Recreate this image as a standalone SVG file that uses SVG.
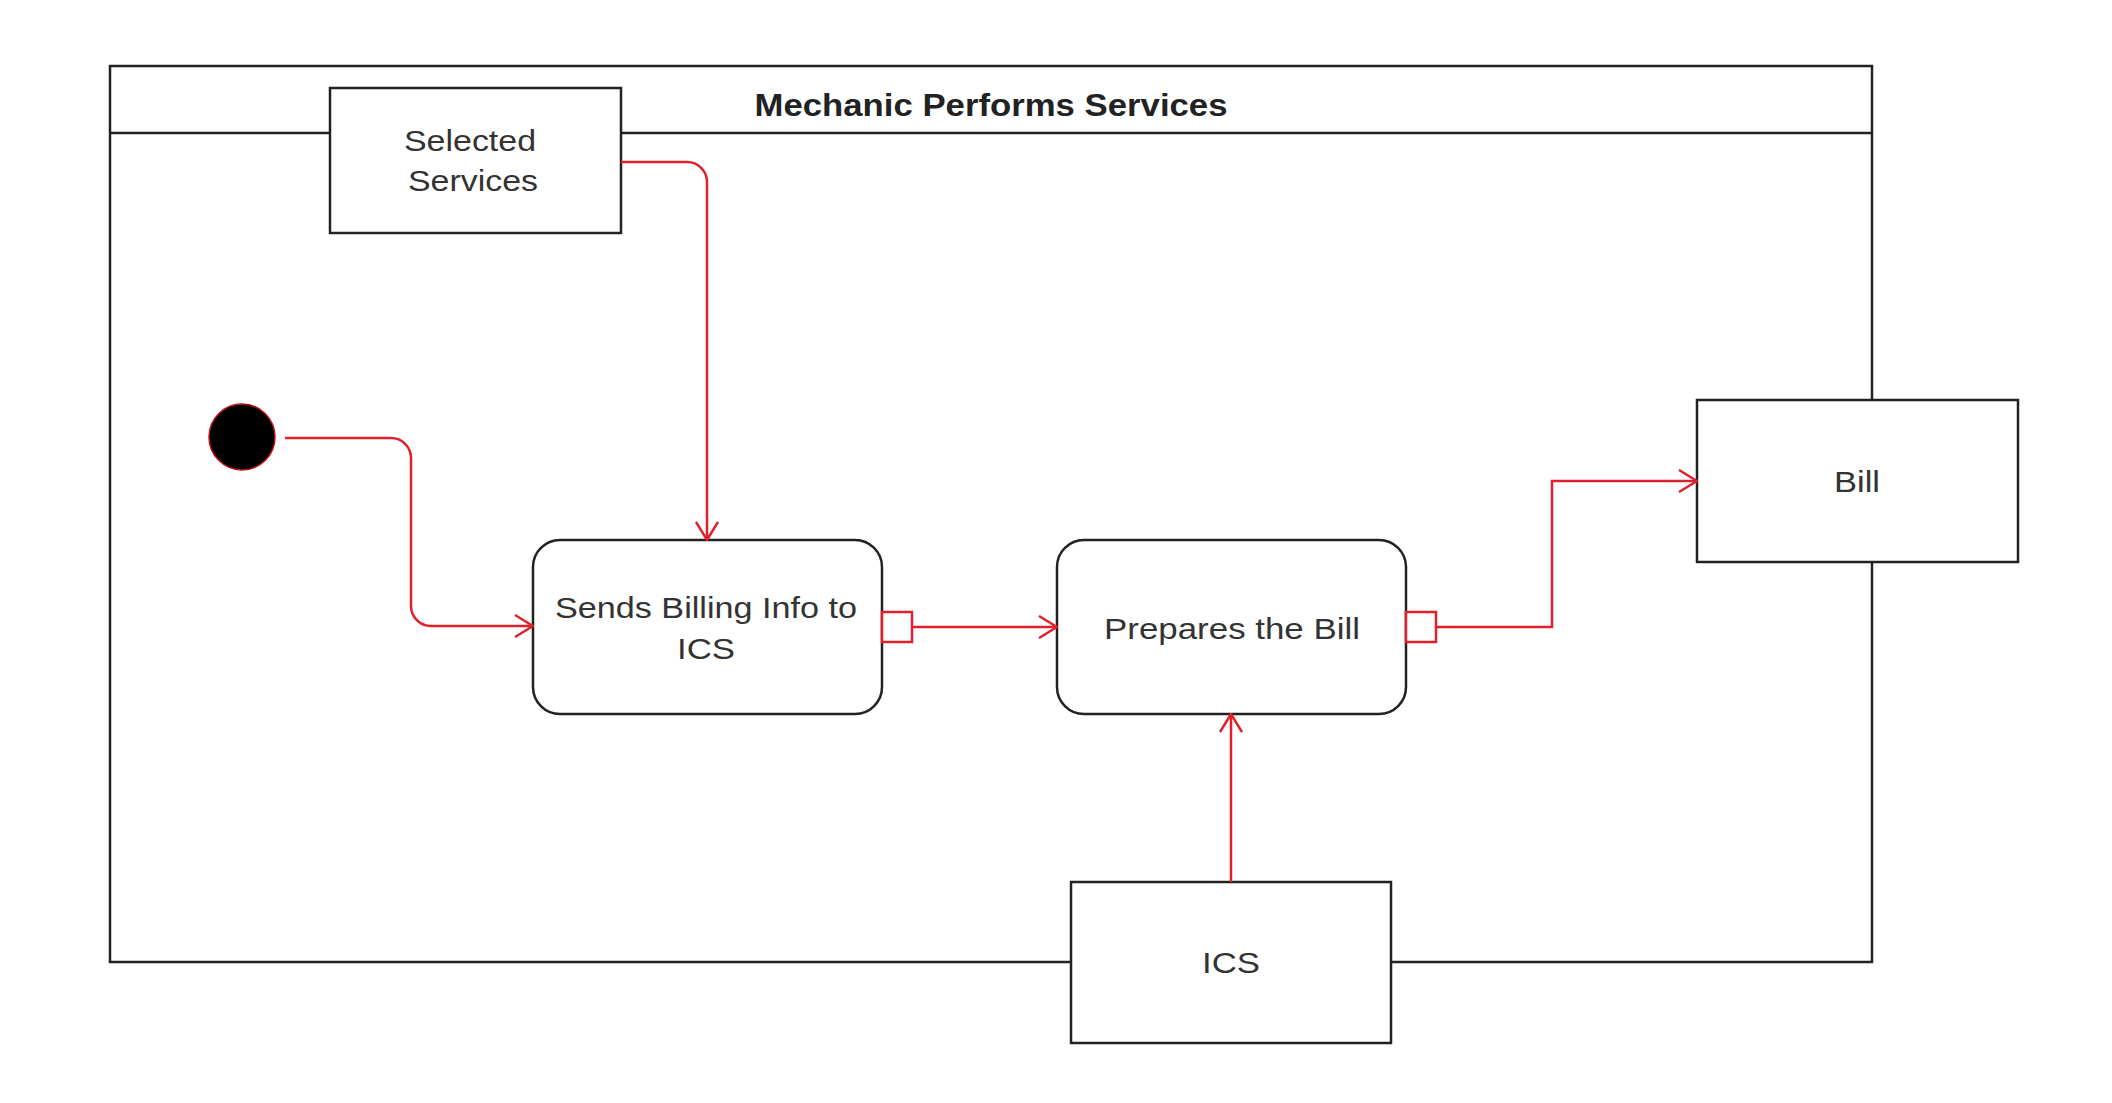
<svg xmlns="http://www.w3.org/2000/svg" width="2112" height="1103" viewBox="0 0 2112 1103">
<style>
.frame{fill:none;stroke:#222;stroke-width:2.5}
.box{fill:#fff;stroke:#222;stroke-width:2.5}
.act{fill:#fff;stroke:#222;stroke-width:2.5}
.lbl{font-family:"Liberation Sans",Arial,sans-serif;font-size:30px;fill:#333;text-anchor:middle}
.title{font-family:"Liberation Sans",Arial,sans-serif;font-size:32px;font-weight:bold;fill:#222;text-anchor:middle}
.edge{fill:none;stroke:#e0202a;stroke-width:2.5}
.pin{fill:#fff;stroke:#e0202a;stroke-width:2.5}
</style>
<defs>
<marker id="arr" viewBox="0 0 20 24" refX="19" refY="12" markerWidth="20" markerHeight="24" markerUnits="userSpaceOnUse" orient="auto">
<path d="M1,1 L19,12 L1,23" fill="none" stroke="#e0202a" stroke-width="2.5"/>
</marker>
</defs>
<rect width="2112" height="1103" fill="#fff"/>
<g id="partition">
<rect class="frame" x="110" y="66" width="1762" height="896"/>
<line class="frame" x1="110" y1="133" x2="1872" y2="133"/>
<text class="title" x="991" y="116" textLength="473" lengthAdjust="spacingAndGlyphs">Mechanic Performs Services</text>
</g>
<g id="selected-services">
<rect class="box" x="330" y="88" width="291" height="145"/>
<text class="lbl" x="470" y="151" textLength="132" lengthAdjust="spacingAndGlyphs">Selected</text>
<text class="lbl" x="473" y="191" textLength="130" lengthAdjust="spacingAndGlyphs">Services</text>
</g>
<g id="initial">
<circle cx="242" cy="437" r="33" fill="#000" stroke="#c0101a" stroke-width="1.5"/>
</g>
<g id="sends-billing">
<rect class="act" x="533" y="540" width="349" height="174" rx="27" ry="27"/>
<text class="lbl" x="706" y="618" textLength="302" lengthAdjust="spacingAndGlyphs">Sends Billing Info to</text>
<text class="lbl" x="706" y="659" textLength="58" lengthAdjust="spacingAndGlyphs">ICS</text>
<rect class="pin" x="882" y="612" width="30" height="30"/>
</g>
<g id="prepares-bill">
<rect class="act" x="1057" y="540" width="349" height="174" rx="27" ry="27"/>
<text class="lbl" x="1232" y="639" textLength="256" lengthAdjust="spacingAndGlyphs">Prepares the Bill</text>
<rect class="pin" x="1406" y="612" width="30" height="30"/>
</g>
<g id="bill">
<rect class="box" x="1697" y="400" width="321" height="162"/>
<text class="lbl" x="1857" y="492" textLength="46" lengthAdjust="spacingAndGlyphs">Bill</text>
</g>
<g id="ics">
<rect class="box" x="1071" y="882" width="320" height="161"/>
<text class="lbl" x="1231" y="973" textLength="58" lengthAdjust="spacingAndGlyphs">ICS</text>
</g>
<g id="connectors">
<path class="edge" d="M285,438 H391 A20,20 0 0 1 411,458 V606 A20,20 0 0 0 431,626 H533" marker-end="url(#arr)"/>
<path class="edge" d="M621,162 H687 A20,20 0 0 1 707,182 V540" marker-end="url(#arr)"/>
<path class="edge" d="M912,627 H1057" marker-end="url(#arr)"/>
<path class="edge" d="M1436,627 H1552 V481 H1697" marker-end="url(#arr)"/>
<path class="edge" d="M1231,882 V714" marker-end="url(#arr)"/>
</g>
</svg>
